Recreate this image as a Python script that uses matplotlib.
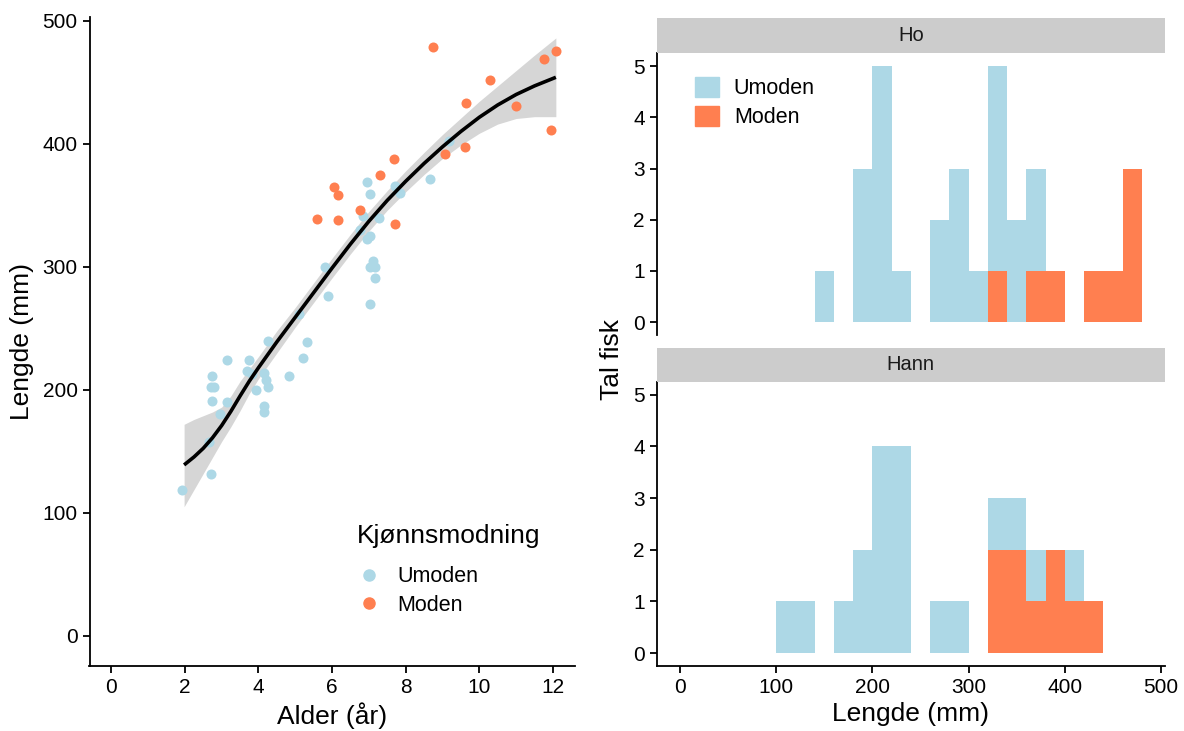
import numpy as np
import matplotlib
matplotlib.use('Agg')
import matplotlib.pyplot as plt
from matplotlib.patches import Patch
from matplotlib.lines import Line2D

plt.rcParams['font.family'] = ['Liberation Sans', 'DejaVu Sans']

# ---------------- data: scatter (alder / lengde) ----------------
umoden_alder = [1.92, 2.71, 2.66, 2.96, 3.14, 2.75, 2.71, 2.78, 2.75, 3.14, 3.73,
                3.70, 3.82, 3.93, 4.15, 4.21, 4.27, 4.16, 4.16, 4.84, 5.20, 5.33,
                4.26, 5.10, 5.89, 5.81, 7.03, 7.16, 7.04, 7.16, 7.11, 6.95, 7.02,
                6.77, 6.84, 7.27, 7.04, 6.95, 7.70, 7.85, 8.65, 9.18]
umoden_lengde = [119, 132, 158, 180, 190, 191, 202, 202, 211, 224, 224,
                 215, 213, 200, 214, 208, 202, 187, 182, 211, 226, 239,
                 240, 262, 276, 300, 270, 291, 300, 300, 305, 323, 325,
                 330, 341, 340, 359, 369, 366, 360, 371, 402]
moden_alder = [7.29, 6.04, 6.16, 5.59, 6.16, 6.76, 7.70, 8.74, 11.75, 12.08,
               10.30, 9.65, 10.99, 11.94, 9.62, 9.06, 7.68]
moden_lengde = [375, 365, 358, 339, 338, 346, 335, 479, 469, 475,
                452, 433, 431, 411, 397, 392, 388]

# smoothed curve (loess) with 95 % band
smooth_alder = [1.98, 2.25, 2.5, 2.75, 3.0, 3.25, 3.5, 3.75, 4.0, 4.5, 5.0, 5.5,
                6.0, 6.5, 7.0, 7.5, 8.0, 8.5, 9.0, 9.5, 10.0, 10.5, 11.0, 11.5, 12.08]
smooth_fit = [139, 145.5, 152.5, 161, 171, 182.5, 195, 207, 218, 239, 259, 279,
              299, 318.5, 337, 354, 369.5, 384, 397.5, 410, 421.5, 431.5, 440, 447, 454]
smooth_lo = [105, 119, 132, 145, 158, 170, 183, 197, 209, 230, 251, 271,
             291, 310.5, 329, 346, 361, 375, 388, 399, 408.5, 416, 420.5, 422, 422]
smooth_hi = [172, 176, 179, 182, 186, 195, 207, 217, 227, 248, 267, 287,
             307, 326.5, 345, 362, 378, 393, 407.5, 421, 434.5, 447, 459.5, 472, 486]

# ---------------- data: histogram counts per 20 mm bin ----------------
bin_start = [100, 120, 140, 160, 180, 200, 220, 240, 260, 280,
             300, 320, 340, 360, 380, 400, 420, 440, 460]
ho_umoden = [0, 0, 1, 0, 3, 5, 1, 0, 2, 3, 1, 4, 2, 2, 0, 0, 0, 0, 0]
ho_moden = [0, 0, 0, 0, 0, 0, 0, 0, 0, 0, 0, 1, 0, 1, 1, 0, 1, 1, 3]
hann_umoden = [1, 1, 0, 1, 2, 4, 4, 0, 1, 1, 0, 1, 1, 1, 0, 1, 0, 0, 0]
hann_moden = [0, 0, 0, 0, 0, 0, 0, 0, 0, 0, 0, 2, 2, 1, 2, 1, 1, 0, 0]

c_umoden = '#ADD8E6'
c_moden = '#FF7F50'

# ---------------- figure ----------------
fig = plt.figure(figsize=(11.84, 7.31), dpi=100)
W, H = 1184, 731


def box(x0, y0, x1, y1):
    return [x0 / W, 1 - y1 / H, (x1 - x0) / W, (y1 - y0) / H]


tick_fs = 15
title_fs = 19
leg_fs = 15.5

# left: scatter
ax = fig.add_axes(box(89.5, 17, 575, 666))
ax.fill_between(smooth_alder, smooth_lo, smooth_hi, color='#999999', alpha=0.4, linewidth=0, zorder=1)
ax.scatter(umoden_alder, umoden_lengde, s=52, color=c_umoden, linewidths=0, zorder=2)
ax.scatter(moden_alder, moden_lengde, s=52, color=c_moden, linewidths=0, zorder=2)
ax.plot(smooth_alder, smooth_fit, color='black', linewidth=2.6, zorder=3,
        solid_capstyle='butt', solid_joinstyle='round')
ax.set_xlim(-0.59, 12.6)
ax.set_ylim(-24.4, 503)
ax.set_xticks([0, 2, 4, 6, 8, 10, 12])
ax.set_yticks([0, 100, 200, 300, 400, 500])
ax.set_xlabel('Alder (år)', fontsize=title_fs, labelpad=4)
ax.set_ylabel('Lengde (mm)', fontsize=title_fs, labelpad=6)

fig.text(357 / W, 1 - 536 / H, 'Kjønnsmodning', fontsize=title_fs, ha='left', va='center')
handles = [Line2D([], [], marker='o', linestyle='', color=c_umoden, markersize=8),
           Line2D([], [], marker='o', linestyle='', color=c_moden, markersize=8)]
ax.legend(handles, ['Umoden', 'Moden'], loc='center left',
          bbox_to_anchor=(347.5 / W, 1 - 591 / H), bbox_transform=fig.transFigure,
          frameon=False, fontsize=leg_fs, handletextpad=0.7, labelspacing=0.35,
          borderaxespad=0, handlelength=1.2)

# right: faceted histograms
facets = [('Ho', ho_umoden, ho_moden, (53.3, 335), (18.3, 53.3)),
          ('Hann', hann_umoden, hann_moden, (381.7, 666), (348.3, 381.7))]
axes_r = []
for name, um, mo, (py0, py1), (sy0, sy1) in facets:
    a = fig.add_axes(box(656.7, py0, 1165, py1))
    a.bar(bin_start, mo, width=20, align='edge', color=c_moden, linewidth=0)
    a.bar(bin_start, um, width=20, align='edge', bottom=mo, color=c_umoden, linewidth=0)
    a.set_xlim(-24, 504)
    a.set_ylim(-0.25, 5.25)
    a.set_yticks([0, 1, 2, 3, 4, 5])
    a.set_xticks([0, 100, 200, 300, 400, 500])
    sa = fig.add_axes(box(656.7, sy0, 1165, sy1))
    sa.set_facecolor('#CCCCCC')
    sa.set_xticks([])
    sa.set_yticks([])
    for sp in sa.spines.values():
        sp.set_visible(False)
    sa.text(0.5, 0.5, name, ha='center', va='center', fontsize=14.5, color='#1A1A1A',
            transform=sa.transAxes)
    axes_r.append(a)

axes_r[0].tick_params(axis='x', bottom=False, labelbottom=False)
axes_r[0].spines['bottom'].set_visible(False)
axes_r[1].set_xlabel('Lengde (mm)', fontsize=title_fs, labelpad=4)
fig.text(612 / W, 1 - 359 / H, 'Tal fisk', rotation=90, ha='center', va='center', fontsize=title_fs)

axes_r[0].legend([Patch(color=c_umoden), Patch(color=c_moden)], ['Umoden', 'Moden'],
                 loc='center left', bbox_to_anchor=(686.4 / W, 1 - 102.5 / H),
                 bbox_transform=fig.transFigure, frameon=False,
                 fontsize=leg_fs, handlelength=1.1, handleheight=1.1, handletextpad=0.7,
                 labelspacing=0.3, borderaxespad=0)

for a in [ax] + axes_r:
    for side in ['top', 'right']:
        a.spines[side].set_visible(False)
    for side in ['left', 'bottom']:
        a.spines[side].set_linewidth(1.3)
    a.tick_params(labelsize=tick_fs, width=1.3, length=5, colors='black')

fig.savefig('out.png', dpi=100)
